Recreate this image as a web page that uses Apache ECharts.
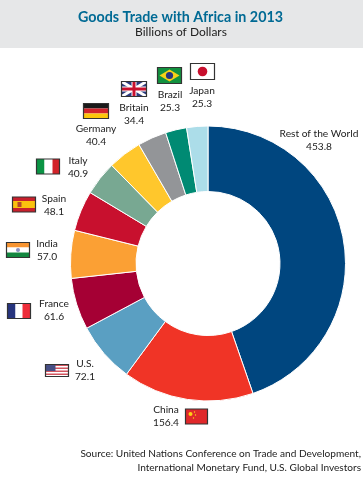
<!DOCTYPE html>
<html>
<head>
<meta charset="utf-8">
<style>html,body{margin:0;padding:0;background:#fff}#main{width:363px;height:479px}</style>
<script src="https://cdn.jsdelivr.net/npm/echarts@6/dist/echarts.min.js"></script>
</head>
<body>
<div id="main"></div>
<script>
var countries = ['Rest of the World', 'China', 'U.S.', 'France', 'India', 'Spain', 'Italy', 'Germany', 'Britain', 'Brazil', 'Japan'];
var tradeValues = [453.8, 156.4, 72.1, 61.6, 57.0, 48.1, 40.9, 40.4, 34.4, 25.3, 25.3];
var sliceColors = ['#00467f', '#f03426', '#5a9fc2', '#a50034', '#fba034', '#c8102e', '#78a892', '#ffc72c', '#939598', '#008a73', '#acdde9'];
var labelCenters = [[319, 140], [166, 416.5], [85, 370.5], [54, 310.5], [47, 250.5], [54, 205.5], [78, 167.5], [96, 135.5], [134, 114.5], [170, 101.5], [202, 97.5]];

var myChart = echarts.init(document.getElementById('main'));

// 国旗都按左上角+宽高画
function rect(x, y, w, h, c) {
    return { type: 'rect', shape: { x: x, y: y, width: w, height: h }, style: { fill: c } };
}
function frame(x, y, w, h) {
    return { type: 'rect', shape: { x: x, y: y, width: w, height: h }, style: { fill: 'none', stroke: '#333', lineWidth: 1.2 } };
}
function circle(cx, cy, r, c) {
    return { type: 'circle', shape: { cx: cx, cy: cy, r: r }, style: { fill: c } };
}
function line(x1, y1, x2, y2, c, w) {
    return { type: 'line', shape: { x1: x1, y1: y1, x2: x2, y2: y2 }, style: { stroke: c, lineWidth: w } };
}
function flagJapan(x, y) {
    return [rect(x, y, 24, 16, '#fff'), circle(x + 12, y + 8, 4.8, '#c8102e'), frame(x, y, 24, 16)];
}
function flagBrazil(x, y) {
    return [rect(x, y, 24, 16, '#12913f'),
        { type: 'polygon', shape: { points: [[x + 2, y + 8], [x + 12, y + 2], [x + 22, y + 8], [x + 12, y + 14]] }, style: { fill: '#f7d117' } },
        circle(x + 12, y + 8, 3.6, '#27357e'), frame(x, y, 24, 16)];
}
function flagBritain(x, y) {
    return [rect(x, y, 25, 15, '#2b3a7e'),
        line(x, y, x + 25, y + 15, '#fff', 3), line(x + 25, y, x, y + 15, '#fff', 3),
        rect(x + 10, y, 5, 15, '#fff'), rect(x, y + 5, 25, 5, '#fff'),
        rect(x + 11, y, 3, 15, '#c8102e'), rect(x, y + 6, 25, 3, '#c8102e'), frame(x, y, 25, 15)];
}
function flagGermany(x, y) {
    return [rect(x, y, 25, 5, '#1a1a1a'), rect(x, y + 5, 25, 5, '#d2232a'), rect(x, y + 10, 25, 5, '#fcc60a'), frame(x, y, 25, 15)];
}
function flagItaly(x, y) {
    return [rect(x, y, 8, 15, '#0b9444'), rect(x + 8, y, 8, 15, '#fff'), rect(x + 16, y, 7, 15, '#d2232a'), frame(x, y, 23, 15)];
}
function flagSpain(x, y) {
    return [rect(x, y, 23, 15, '#c8202c'), rect(x, y + 4, 23, 7, '#fbc10e'), rect(x + 5, y + 5, 4, 5, '#b5482a'), frame(x, y, 23, 15)];
}
function flagIndia(x, y) {
    return [rect(x, y, 23, 5, '#f79431'), rect(x, y + 5, 23, 5, '#fff'), rect(x, y + 10, 23, 5, '#13873f'), circle(x + 11.5, y + 7.5, 2, '#8a8fc0'), frame(x, y, 23, 15)];
}
function flagFrance(x, y) {
    return [rect(x, y, 8, 15, '#27357e'), rect(x + 8, y, 7, 15, '#fff'), rect(x + 15, y, 8, 15, '#ee2e3b'), frame(x, y, 23, 15)];
}
function flagUS(x, y) {
    var s = [rect(x, y, 23, 12, '#fff')];
    for (var i = 0; i < 4; i++) {
        s.push(rect(x, y + i * 3, 23, 1.5, '#d2555f'));
    }
    s.push(rect(x, y, 10, 6.5, '#474f85'));
    s.push(frame(x, y, 23, 12));
    return s;
}
function flagChina(x, y) {
    return [rect(x, y, 22, 15, '#e0282a'), circle(x + 5, y + 5, 2, '#fcd116'), circle(x + 9, y + 3, 0.7, '#fcd116'), circle(x + 10, y + 6, 0.7, '#fcd116'), circle(x + 8, y + 9, 0.7, '#fcd116'), frame(x, y, 22, 15)];
}

var flags = [].concat(
    flagJapan(190.5, 63.5), flagBrazil(157.5, 67.5), flagBritain(121.5, 81.5), flagGermany(83.5, 103.5),
    flagItaly(36.5, 159), flagSpain(12.5, 197), flagIndia(6.5, 242.5), flagFrance(7.5, 303.5),
    flagUS(45.5, 364.5), flagChina(185.5, 409)
);

var option = {
    animation: false,
    backgroundColor: '#fff',
    graphic: [
        { type: 'rect', z: -1, shape: { x: 0, y: 0, width: 363, height: 48 }, style: { fill: '#e6e7e8' } },
        {
            type: 'text', x: 180.5, y: 10,
            style: { text: 'Goods Trade with Africa in 2013', align: 'center', fill: '#006a94', font: 'bold 14.3px Lato' }
        },
        {
            type: 'text', x: 181, y: 26,
            style: { text: 'Billions of Dollars', align: 'center', fill: '#222', font: '12px Lato' }
        },
        {
            type: 'text', x: 361, y: 447,
            style: {
                text: 'Source: United Nations Conference on Trade and Development,\nInternational Monetary Fund, U.S. Global Investors',
                align: 'right', fill: '#222', font: '10.1px Lato', lineHeight: 14
            }
        }
    ].concat(flags),
    series: [{
        type: 'pie',
        center: [208, 263.5],
        radius: [72, 137.5],
        startAngle: 90,
        clockwise: true,
        silent: true,
        itemStyle: { borderColor: '#fff', borderWidth: 1 },
        label: {
            show: true,
            position: 'outside',
            overflow: 'none',
            formatter: function (p) { return p.name + '\n' + p.value.toFixed(1); },
            color: '#222',
            fontFamily: 'Lato',
            fontSize: 10.2,
            lineHeight: 13,
            align: 'center',
            verticalAlign: 'middle'
        },
        labelLine: { show: false },
        labelLayout: function (p) {
            var c = labelCenters[p.dataIndex];
            return { x: c[0], y: c[1], align: 'center', verticalAlign: 'middle' };
        },
        data: countries.map(function (n, i) {
            return { name: n, value: tradeValues[i], itemStyle: { color: sliceColors[i] } };
        })
    }]
};
myChart.setOption(option);
</script>
</body>
</html>
